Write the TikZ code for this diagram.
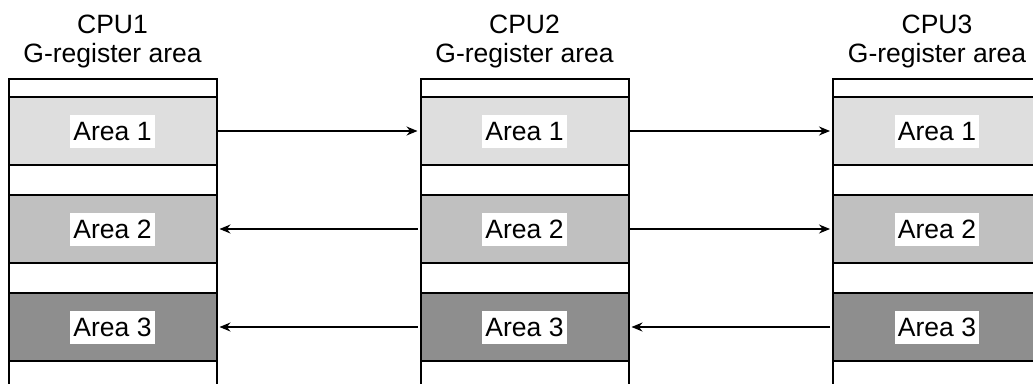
\documentclass[tikz,border=0pt]{standalone}
\usepackage{fontspec}
\setmainfont{Liberation Sans}
\usetikzlibrary{arrows.meta, positioning}
\definecolor{areaA}{RGB}{222, 222, 222}
\definecolor{areaB}{RGB}{192, 192, 192}
\definecolor{areaC}{RGB}{142, 142, 142}

\begin{document}
\begin{tikzpicture}[
    x=1pt, y=-1pt,
    colframe/.style={rectangle, draw, line width=2pt, minimum width=208pt, minimum height=340pt, inner sep=0pt, outer sep=0pt},
    cell/.style={rectangle, draw, line width=2pt, minimum width=208pt, minimum height=68pt, inner sep=0pt, outer sep=0pt},
    tag/.style={fill=white, inner xsep=3pt, inner ysep=7.5pt, text height=18pt, text depth=0pt, font=\fontsize{26.5}{29.5}\selectfont},
    head/.style={align=center, inner sep=0pt, font=\fontsize{26.5}{29.5}\selectfont},
    arrowstyle/.style={-{Stealth[length=11pt, width=9pt]}, line width=1.3pt}
]

\clip (0,0) rectangle (1033,383);

% Column frames
\node[colframe, anchor=north] (F1) at (112.5,79) {};
\node[colframe, anchor=north] (F2) at (524.5,79) {};
\node[colframe, anchor=north] (F3) at (937,79) {};

% Headings
\node[head, above=10.5pt of F1.north] (H1) {CPU1\\G-register area};
\node[head, above=10.5pt of F2.north] (H2) {CPU2\\G-register area};
\node[head, above=10.5pt of F3.north] (H3) {CPU3\\G-register area};

% CPU1 areas
\node[cell, fill=areaA, below=18pt of F1.north] (A1) {};
\node[cell, fill=areaB, below=30pt of A1] (A2) {};
\node[cell, fill=areaC, below=30pt of A2] (A3) {};

% CPU2 areas
\node[cell, fill=areaA, below=18pt of F2.north] (B1) {};
\node[cell, fill=areaB, below=30pt of B1] (B2) {};
\node[cell, fill=areaC, below=30pt of B2] (B3) {};

% CPU3 areas
\node[cell, fill=areaA, below=18pt of F3.north] (C1) {};
\node[cell, fill=areaB, below=30pt of C1] (C2) {};
\node[cell, fill=areaC, below=30pt of C2] (C3) {};

% Labels
\node[tag] (tA1) at (A1) {Area 1};
\node[tag] (tA2) at (A2) {Area 2};
\node[tag] (tA3) at (A3) {Area 3};
\node[tag] (tB1) at (B1) {Area 1};
\node[tag] (tB2) at (B2) {Area 2};
\node[tag] (tB3) at (B3) {Area 3};
\node[tag] (tC1) at (C1) {Area 1};
\node[tag] (tC2) at (C2) {Area 2};
\node[tag] (tC3) at (C3) {Area 3};

% Transfers
\draw[arrowstyle, shorten <=1pt, shorten >=3pt] (A1.east) -- (B1.west);
\draw[arrowstyle, shorten <=1pt, shorten >=3pt] (B1.east) -- (C1.west);
\draw[arrowstyle, shorten <=3pt, shorten >=3pt] (B2.west) -- (A2.east);
\draw[arrowstyle, shorten <=1pt, shorten >=3pt] (B2.east) -- (C2.west);
\draw[arrowstyle, shorten <=3pt, shorten >=3pt] (B3.west) -- (A3.east);
\draw[arrowstyle, shorten <=3pt, shorten >=3pt] (C3.west) -- (B3.east);

\end{tikzpicture}
\end{document}
